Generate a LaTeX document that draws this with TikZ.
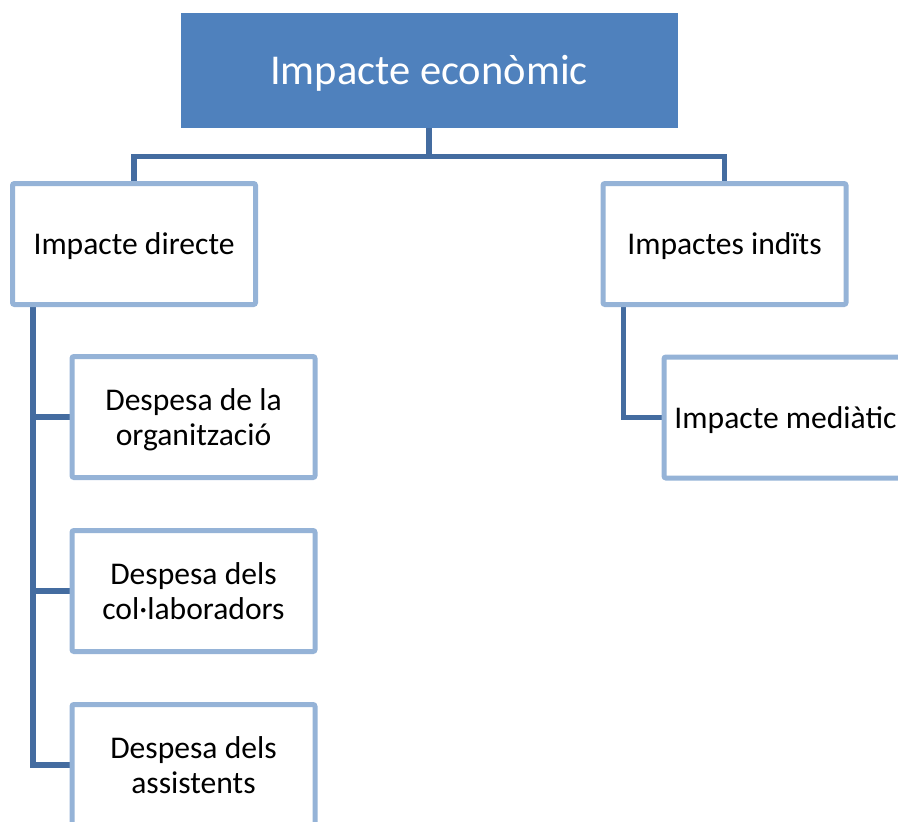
\documentclass[tikz,border=0pt]{standalone}
\usepackage{fontspec}
\setmainfont{Carlito}
\usetikzlibrary{backgrounds}
\definecolor{blaufosc}{RGB}{79,129,189}
\definecolor{blauclar}{RGB}{149,179,215}
\definecolor{blaulinia}{RGB}{68,108,160}
\tikzset{
  titol/.style={fill=blaufosc, draw=blaufosc, text=white, minimum width=496pt, minimum height=114pt,
    font=\fontsize{42.5}{48}\selectfont, inner sep=0pt, text depth=0pt},
  caixa/.style={draw=blauclar, fill=white, line width=5pt, rounded corners=2pt, minimum width=243pt,
    minimum height=121pt, align=center, inner sep=0pt, text depth=0pt, font=\fontsize{31.6}{35}\selectfont},
  enllac/.style={draw=blaulinia, line width=5.5pt}
}
\begin{document}
\begin{tikzpicture}[x=1pt, y=-1pt]
				\clip (0,0) rectangle (898,822);
				%Titol
				\node[titol] (eco) at (429,70) {Impacte econòmic};
				%Primer nivell
				\node[caixa] (dir) at (134,244) {Impacte directe};
				\node[caixa] (ind) at (724.5,244) {Impactes indïts};
				%Segon nivell
				\node[caixa] (org) at (193.5,417) {Despesa de la\\organització};
				\node[caixa] (col) at (193.5,591) {Despesa dels\\col·laboradors};
				\node[caixa] (ass) at (193.5,765) {Despesa dels\\assistents};
				\node[caixa] (med) at (785.5,417.5) {Impacte mediàtic};
				%Connectors
				\coordinate (mig) at ([yshift=-29.5pt]eco.south);
				\coordinate (dirspine) at ([xshift=23pt]dir.south west);
				\coordinate (indspine) at ([xshift=23pt]ind.south west);
				\begin{scope}[on background layer]
				\draw[enllac] (eco.south) -- (mig) -| (dir.north);
				\draw[enllac] (mig) -| (ind.north);
				\draw[enllac] (dirspine) |- (org.west);
				\draw[enllac] (dirspine) |- (col.west);
				\draw[enllac] (dirspine) |- (ass.west);
				\draw[enllac] (indspine) |- (med.west);
				\end{scope}
\end{tikzpicture}
\end{document}
